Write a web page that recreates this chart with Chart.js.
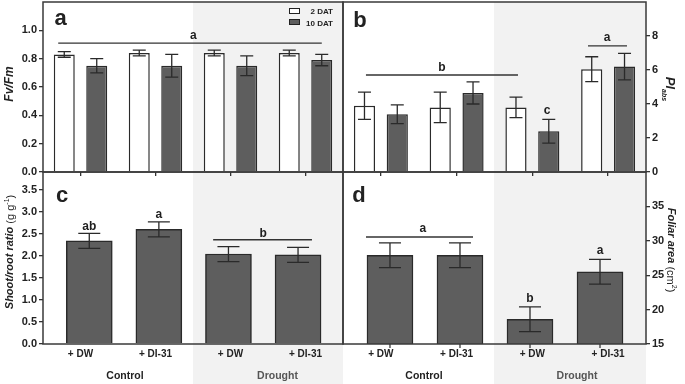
<!DOCTYPE html>
<html><head><meta charset="utf-8">
<script src="https://cdn.jsdelivr.net/npm/chart.js@4.4.0/dist/chart.umd.min.js"></script>
<style>
body{margin:0;background:#fff;width:685px;height:384px;overflow:hidden;position:relative;font-family:"Liberation Sans",Arial,sans-serif;color:#222;}
.shade{position:absolute;background:#f2f2f2;}
canvas{position:absolute;}
.t{position:absolute;white-space:nowrap;line-height:1;}
.c{transform:translate(-50%,-50%);}
.rl{transform:translate(-50%,-50%) rotate(-90deg);}
.rr{transform:translate(-50%,-50%) rotate(90deg);}
.bi{font-weight:bold;font-style:italic;}
.n{font-weight:normal;font-style:normal;}
.lg{position:absolute;width:9px;height:4px;border:1.3px solid #222;}
</style></head><body>
<div class="shade" style="left:193px;top:2px;width:150px;height:382px"></div>
<div class="shade" style="left:494px;top:2px;width:152px;height:382px"></div>
<canvas id="ca" width="346" height="180" style="left:0;top:0"></canvas>
<canvas id="cb" width="345" height="180" style="left:340px;top:0"></canvas>
<canvas id="cc" width="346" height="200" style="left:0;top:165px"></canvas>
<canvas id="cd" width="345" height="200" style="left:340px;top:165px"></canvas>

<div class="t c" style="left:60.5px;top:18px;font:bold 22px 'Liberation Sans',Arial">a</div>
<div class="t c" style="left:360px;top:19.5px;font:bold 22px 'Liberation Sans',Arial">b</div>
<div class="t c" style="left:62px;top:195px;font:bold 22px 'Liberation Sans',Arial">c</div>
<div class="t c" style="left:359px;top:195px;font:bold 22px 'Liberation Sans',Arial">d</div>

<div class="t rl bi" style="left:9px;top:84px;font-size:12px">Fv/Fm</div>
<div class="t rr bi" style="left:669px;top:89px;font-size:13px">PI<sub style="font-size:7px">abs</sub></div>
<div class="t rl bi" style="left:9px;top:252px;font-size:11px">Shoot/root ratio<span class="n"> (g g<sup style="font-size:7px">-1</sup>)</span></div>
<div class="t rr bi" style="left:672px;top:250px;font-size:11px">Foliar area<span class="n"> (cm<sup style="font-size:7px">2</sup>)</span></div>

<div class="lg" style="left:289px;top:8px;background:#fff"></div>
<div class="lg" style="left:289px;top:19px;background:#5e5e5e"></div>
<div id="lg1" class="t" style="right:352px;top:7px;font:bold 8px 'Liberation Sans',Arial"></div>
<div id="lg2" class="t" style="right:352px;top:19px;font:bold 8px 'Liberation Sans',Arial"></div>

<div id="g1" class="t c" style="left:125px;top:375px;font:bold 10.5px 'Liberation Sans',Arial;color:#222"></div>
<div id="g2" class="t c" style="left:277.5px;top:375px;font:bold 10.5px 'Liberation Sans',Arial;color:#555"></div>
<div id="g3" class="t c" style="left:424px;top:375px;font:bold 10.5px 'Liberation Sans',Arial;color:#222"></div>
<div id="g4" class="t c" style="left:577px;top:375px;font:bold 10.5px 'Liberation Sans',Arial;color:#555"></div>

<script>
// ---- data ----
const treatments = ['+ DW', '+ DI-31', '+ DW', '+ DI-31'];
const conditions = ['Control', 'Drought'];
const seriesNames = ['2 DAT', '10 DAT'];

const fvfm2 = [0.83, 0.84, 0.84, 0.84];
const fvfm2Err = [0.02, 0.02, 0.02, 0.02];
const fvfm10 = [0.75, 0.75, 0.75, 0.79];
const fvfm10Err = [0.05, 0.08, 0.07, 0.04];

const pi2 = [3.9, 3.8, 3.8, 6.05];
const pi2Err = [0.8, 0.9, 0.6, 0.73];
const pi10 = [3.4, 4.65, 2.4, 6.2];
const pi10Err = [0.55, 0.65, 0.7, 0.78];

const shootRoot = [2.34, 2.60, 2.04, 2.02];
const shootRootErr = [0.17, 0.17, 0.17, 0.17];

const foliar = [27.9, 27.9, 18.6, 25.5];
const foliarErr = [1.8, 1.8, 1.8, 1.8];

const fvfmTicks = [0, 0.2, 0.4, 0.6, 0.8, 1.0];
const piTicks = [0, 2, 4, 6, 8];
const srTicks = [0, 0.5, 1.0, 1.5, 2.0, 2.5, 3.0, 3.5];
const faTicks = [15, 20, 25, 30, 35];

// significance letters (x in category units, y in value units)
const annA = {lines:[{x1:-0.297, x2:3.217, y:0.91}], texts:[{x:1.503, y:0.94, t:'a'}]};
const annB = {lines:[{x1:-0.197, x2:1.81, y:5.71},{x1:2.734, x2:3.249, y:7.42}],
              texts:[{x:0.807, y:5.97, t:'b'},{x:2.985, y:7.73, t:'a'},{x:2.193, y:3.40, t:'c'}]};
const annC = {lines:[{x1:1.78, x2:3.2, y:2.364}], texts:[{x:0, y:2.575, t:'ab'},{x:1, y:2.857, t:'a'},{x:2.497, y:2.42, t:'b'}]};
const annD = {lines:[{x1:-0.343, x2:1.186, y:30.55}], texts:[{x:0.471, y:31.32, t:'a'},{x:2, y:21.06, t:'b'},{x:3, y:28.04, t:'a'}]};

document.getElementById('lg1').textContent = seriesNames[0];
document.getElementById('lg2').textContent = seriesNames[1];
document.getElementById('g1').textContent = conditions[0];
document.getElementById('g2').textContent = conditions[1];
document.getElementById('g3').textContent = conditions[0];
document.getElementById('g4').textContent = conditions[1];

const INK = '#2a2a2a', GRAY = '#5e5e5e';
const tickFont = {family:"'Liberation Sans', Arial, sans-serif", size:11, weight:'bold'};

const errPlugin = {
  id:'err',
  afterDatasetsDraw(chart, args, opts) {
    const ctx = chart.ctx;
    chart.data.datasets.forEach((ds, di) => {
      const meta = chart.getDatasetMeta(di);
      const ys = chart.scales[meta.yAxisID];
      meta.data.forEach((bar, i) => {
        const raw = ds.data[i];
        const v = typeof raw === 'object' ? raw.y : raw;
        const e = ds.err[i];
        const yT = ys.getPixelForValue(v + e), yB = ys.getPixelForValue(v - e);
        const x = bar.x, hw = opts.cap / 2;
        ctx.save();
        ctx.strokeStyle = INK; ctx.lineWidth = 1.3;
        ctx.beginPath();
        ctx.moveTo(x, yT); ctx.lineTo(x, yB);
        ctx.moveTo(x - hw, yT); ctx.lineTo(x + hw, yT);
        ctx.moveTo(x - hw, yB); ctx.lineTo(x + hw, yB);
        ctx.stroke();
        ctx.restore();
      });
    });
  }
};

const framePlugin = {
  id:'frame',
  afterDraw(chart, args, opts) {
    const ctx = chart.ctx, a = chart.chartArea;
    const xs = chart.scales[opts.xID], ys = chart.scales.y;
    ctx.save();
    ctx.strokeStyle = '#3a3a3a'; ctx.lineWidth = 1.5;
    ctx.strokeRect(a.left, a.top, a.right - a.left, a.bottom - a.top);
    if (opts.bottomTicks) {
      ctx.lineWidth = 1.3;
      ctx.beginPath();
      opts.bottomTicks.forEach((_, i) => {
        const x = xs.getPixelForValue(i);
        ctx.moveTo(x, a.bottom); ctx.lineTo(x, a.bottom + 4);
      });
      ctx.stroke();
    }
    const ann = opts.ann || {};
    ctx.strokeStyle = '#333'; ctx.lineWidth = 1.4;
    (ann.lines || []).forEach(l => {
      const y = ys.getPixelForValue(l.y);
      ctx.beginPath();
      ctx.moveTo(xs.getPixelForValue(l.x1), y);
      ctx.lineTo(xs.getPixelForValue(l.x2), y);
      ctx.stroke();
    });
    ctx.fillStyle = '#1e1e1e';
    ctx.font = "bold 12px 'Liberation Sans', Arial, sans-serif";
    ctx.textAlign = 'center'; ctx.textBaseline = 'alphabetic';
    (ann.texts || []).forEach(t => {
      ctx.fillText(t.t, xs.getPixelForValue(t.x), ys.getPixelForValue(t.y));
    });
    ctx.restore();
  }
};

const fix = (w, h) => s => {
  if (w != null) s.width = w;
  if (h != null) s.height = h;
  s.paddingTop = 0; s.paddingBottom = 0; s.paddingLeft = 0; s.paddingRight = 0;
};

function yScale(pos, min, max, ticks, dec, w) {
  return {
    position: pos, min: min, max: max,
    afterBuildTicks: s => { s.ticks = ticks.map(v => ({value: v})); },
    ticks: {callback: v => Number(v).toFixed(dec), font: tickFont, color: '#222', padding: 2},
    grid: {drawOnChartArea: false, drawTicks: true, tickLength: 4, color: '#333', lineWidth: 1.3},
    border: {display: false},
    afterFit: fix(w, null)
  };
}

const baseOpts = (pad) => ({
  responsive: false, animation: false, events: [],
  layout: {padding: pad},
});

function pairChart(id, a, aErr, b, bErr, pos, min, max, ticks, dec, pad, ann) {
  const o = baseOpts(pad);
  o.plugins = {legend: {display: false}, tooltip: {enabled: false}, err: {cap: 13}, frame: {xID: 'x', ann: ann}};
  o.scales = {
    x: {type: 'category', offset: true, ticks: {display: false},
        grid: {offset: false, drawOnChartArea: false, drawTicks: true, tickLength: 4, color: '#333', lineWidth: 1.3},
        border: {display: false}, afterFit: fix(null, 8)},
    y: yScale(pos, min, max, ticks, dec, 39 + (pos === 'left' ? 4 : 0))
  };
  return new Chart(document.getElementById(id), {
    type: 'bar',
    data: {labels: treatments, datasets: [
      {label: seriesNames[0], data: a, err: aErr, backgroundColor: '#ffffff', borderColor: INK, borderWidth: 1.5,
       categoryPercentage: 0.866, barPercentage: 0.646},
      {label: seriesNames[1], data: b, err: bErr, backgroundColor: GRAY, borderColor: INK, borderWidth: 1.5,
       categoryPercentage: 0.866, barPercentage: 0.646}
    ]},
    options: o,
    plugins: [errPlugin, framePlugin]
  });
}

function singleChart(id, vals, err, pos, min, max, ticks, dec, pad, xmin, xmax, ann, bottomTicks) {
  const o = baseOpts(pad);
  o.plugins = {legend: {display: false}, tooltip: {enabled: false}, err: {cap: 22},
               frame: {xID: 'xb', ann: ann, bottomTicks: bottomTicks ? vals : null}};
  o.scales = {
    x: {type: 'category', offset: true,
        ticks: {font: {family: "'Liberation Sans', Arial, sans-serif", size: 10, weight: 'bold'}, color: '#222', padding: 4, maxRotation: 0, autoSkip: false},
        grid: {display: false, drawTicks: false}, border: {display: false}, afterFit: fix(null, 21)},
    xb: {type: 'linear', display: false, offset: false, min: xmin, max: xmax, position: 'bottom'},
    y: yScale(pos, min, max, ticks, dec, 39 + (pos === 'left' ? 4 : 0))
  };
  return new Chart(document.getElementById(id), {
    type: 'bar',
    data: {labels: treatments, datasets: [
      {label: 'v', xAxisID: 'xb', yAxisID: 'y', data: vals.map((v, i) => ({x: i, y: v})), err: err,
       backgroundColor: GRAY, borderColor: INK, borderWidth: 1.5, barThickness: 46}
    ]},
    options: o,
    plugins: [errPlugin, framePlugin]
  });
}

pairChart('ca', fvfm2, fvfm2Err, fvfm10, fvfm10Err, 'left', 0, 1.2, fvfmTicks, 1, {top: 2, right: 3, left: 0, bottom: 0}, annA);
pairChart('cb', pi2, pi2Err, pi10, pi10Err, 'right', 0, 10, piTicks, 0, {top: 2, right: 0, left: 3, bottom: 0}, annB);
singleChart('cc', shootRoot, shootRootErr, 'left', 0, 3.9, srTicks, 1, {top: 7, right: 3, left: 0, bottom: 0}, -0.665, 3.646, annC, false);
singleChart('cd', foliar, foliarErr, 'right', 15, 40, faTicks, 0, {top: 7, right: 0, left: 3, bottom: 0}, -0.671, 3.657, annD, true);
</script>
</body></html>
